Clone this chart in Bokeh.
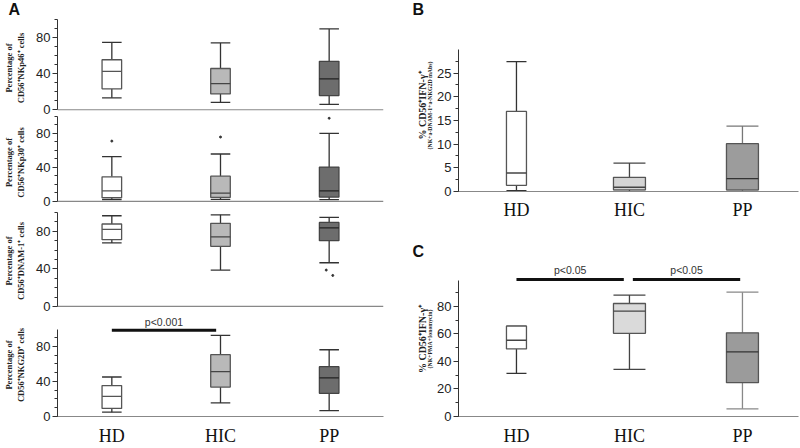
from bokeh.plotting import figure
from bokeh.models import (Range1d, SingleIntervalTicker, FixedTicker, Span, LinearAxis,
                          ColumnDataSource)
from bokeh.core.properties import value
from bokeh.layouts import column, row
from bokeh.embed import file_html
from bokeh.resources import INLINE

# ---------------- data ----------------
cats = ["HD", "HIC", "PP"]
panel_letters = ["A", "B", "C"]

# Panel A (percentage of CD56+ cells expressing receptor)
nkp46_low = [13.2, 8.2, 6.0]
nkp46_q1 = [23.2, 17.5, 15.7]
nkp46_med = [42.5, 29.0, 34.3]
nkp46_q3 = [55.4, 45.7, 53.6]
nkp46_high = [74.6, 74.0, 89.6]

nkp30_low = [1.9, 2.3, 1.9]
nkp30_q1 = [4.2, 4.6, 5.0]
nkp30_med = [12.3, 9.6, 12.3]
nkp30_q3 = [28.8, 29.6, 40.4]
nkp30_high = [52.7, 55.8, 80.0]
nkp30_out_cat = [0, 1, 2]
nkp30_out_val = [71.0, 75.8, 98.0]

dnam_low = [67.6, 38.7, 46.5]
dnam_q1 = [71.0, 64.0, 70.0]
dnam_med = [82.0, 74.0, 83.5]
dnam_q3 = [87.7, 88.4, 89.4]
dnam_high = [96.5, 97.5, 94.7]
dnam_out_cat = [2, 2]
dnam_out_val = [38.7, 33.0]

nkg2d_low = [4.9, 15.5, 6.7]
nkg2d_q1 = [9.2, 33.5, 26.4]
nkg2d_med = [22.9, 51.0, 44.0]
nkg2d_q3 = [35.2, 70.4, 56.7]
nkg2d_high = [45.0, 92.3, 76.0]
nkg2d_sig_text = ["p<0.001"]

# Panel B (% CD56+IFN-g+, receptor stimulation)
b_low = [0.2, 0.0, 0.1]
b_q1 = [1.3, 0.35, 0.35]
b_med = [3.9, 0.9, 2.7]
b_q3 = [16.9, 3.0, 10.1]
b_high = [27.4, 6.0, 13.8]

# Panel C (% CD56+IFN-g+, PMA + ionomycin)
c_low = [31.3, 34.2, 5.6]
c_q1 = [49.1, 60.4, 24.6]
c_med = [55.4, 76.5, 47.0]
c_q3 = [65.7, 82.1, 60.8]
c_high = [65.7, 88.2, 90.3]
c_sig_text = ["p<0.05", "p<0.05"]

# ---------------- styles ----------------
SANS = "Liberation Sans"
SERIF = "Liberation Serif"
xs = list(range(len(cats)))


def style_yaxis(p, interval, minor, bounds):
    p.yaxis.ticker = SingleIntervalTicker(interval=interval, num_minor_ticks=minor)
    ax = p.yaxis[0]
    ax.bounds = bounds
    ax.axis_line_color = "#333333"
    ax.axis_line_width = 1
    ax.major_tick_line_color = "#333333"
    ax.minor_tick_line_color = "#333333"
    ax.major_tick_in = 0
    ax.major_tick_out = 5
    ax.minor_tick_in = 0
    ax.minor_tick_out = 3
    ax.major_label_standoff = 2
    ax.major_label_text_font = SANS
    ax.major_label_text_font_size = "13px"
    ax.major_label_text_color = "#222222"


def style_xaxis(p, standoff):
    ax = p.xaxis[0]
    ax.ticker = FixedTicker(ticks=xs)
    ax.major_label_overrides = {i: c for i, c in enumerate(cats)}
    ax.axis_line_color = "#888888"
    ax.axis_line_width = 1.2
    ax.major_tick_line_color = None
    ax.minor_tick_line_color = None
    ax.major_label_standoff = standoff
    ax.major_label_text_font = SERIF
    ax.major_label_text_font_size = "18px"
    ax.major_label_text_color = "#111111"


def make_fig(w, h, xr, yr, top, bottom, left, right, xaxis=False):
    kw = dict(width=w, height=h, x_range=Range1d(*xr), y_range=Range1d(*yr),
              toolbar_location=None, output_backend="svg",
              min_border_top=top, min_border_bottom=bottom,
              min_border_left=left, min_border_right=right)
    if not xaxis:
        kw["x_axis_location"] = None
    p = figure(**kw)
    p.grid.visible = False
    p.outline_line_color = None
    p.background_fill_color = "white"
    p.border_fill_color = "white"
    return p


def letter(p, txt, offset):
    t = p.title
    t.text = txt
    t.align = "left"
    t.offset = offset
    t.standoff = 0
    t.vertical_align = "top"
    t.text_font = SANS
    t.text_font_style = "bold"
    t.text_font_size = "16px"
    t.text_color = "#111111"


def draw_boxes(p, low, q1, med, q3, high, widths, fills, lines, meds, whisk):
    half = [w / 2 for w in widths]
    src = ColumnDataSource(dict(
        x=xs, low=low, q1=q1, med=med, q3=q3, high=high, w=widths,
        xl=[x - h for x, h in zip(xs, half)], xr=[x + h for x, h in zip(xs, half)],
        fill=fills, line=lines, medc=meds, wc=whisk))
    p.segment(x0="x", y0="low", x1="x", y1="q1", line_color="wc", line_width=1.3, source=src)
    p.segment(x0="x", y0="q3", x1="x", y1="high", line_color="wc", line_width=1.3, source=src)
    p.segment(x0="xl", y0="low", x1="xr", y1="low", line_color="wc", line_width=1.3, source=src)
    p.segment(x0="xl", y0="high", x1="xr", y1="high", line_color="wc", line_width=1.3, source=src)
    p.vbar(x="x", width="w", bottom="q1", top="q3", fill_color="fill",
           line_color="line", line_width=1.3, source=src)
    p.segment(x0="xl", y0="med", x1="xr", y1="med", line_color="medc", line_width=1.3, source=src)


def ylabel_axes(p, lines, sizes, standoffs, bounds):
    # lines listed from the one nearest the plot outward
    for text, fs, st in zip(lines, sizes, standoffs):
        ax = LinearAxis(ticker=FixedTicker(ticks=[]), bounds=bounds, axis_label=text,
                        axis_line_color=None, major_tick_line_color=None,
                        minor_tick_line_color=None, major_tick_out=0, minor_tick_out=0,
                        major_tick_in=0, minor_tick_in=0, major_label_standoff=0,
                        axis_label_standoff=st, axis_label_text_font=SERIF,
                        axis_label_text_font_style="bold", axis_label_text_font_size=fs,
                        axis_label_text_color="#222222")
        p.add_layout(ax, "left")


def sig(p, x0, x1, ybar, ytxt, texts):
    p.segment(x0=x0, y0=[ybar] * len(x0), x1=x1, y1=[ybar] * len(x0),
              line_color="#111111", line_width=3)
    p.text(x=[(a + b) / 2 for a, b in zip(x0, x1)], y=[ytxt] * len(x0), text=texts,
           text_font=value(SANS), text_font_size="10.5px", text_color="#333333",
           text_align="center", text_baseline="middle")


def xline(p):
    p.add_layout(Span(location=0, dimension="width", line_color="#888888", line_width=1.2))


# ---------------- panel A ----------------
A_fill = ["#ffffff", "#b9b9b9", "#6d6d6d"]
A_line = ["#555555", "#555555", "#444444"]
A_med = ["#555555", "#444444", "#222222"]
A_whisk = ["#333333", "#333333", "#333333"]
A_w = [0.18, 0.18, 0.18]
A_xr = (-0.5, 2.5)
LW, LL, LR = 400, 51, 17
A_lab_sizes = ["8.5px", "8.5px"]
A_lab_standoffs = [8, -1]

f1 = make_fig(LW, 116, A_xr, (-7.5, 100), 17, 0, LL, LR)
draw_boxes(f1, nkp46_low, nkp46_q1, nkp46_med, nkp46_q3, nkp46_high, A_w, A_fill, A_line, A_med, A_whisk)
style_yaxis(f1, 40, 4, (0, 100)); xline(f1)
ylabel_axes(f1, ["CD56\u207aNKp46\u207a cells", "Percentage of"], A_lab_sizes, A_lab_standoffs, (32, 100))
letter(f1, panel_letters[0], -49)

f2 = make_fig(LW, 92, A_xr, (-8.5, 100), 0, 0, LL, LR)
draw_boxes(f2, nkp30_low, nkp30_q1, nkp30_med, nkp30_q3, nkp30_high, A_w, A_fill, A_line, A_med, A_whisk)
f2.scatter(x=nkp30_out_cat, y=nkp30_out_val, size=2, color="#333333")
style_yaxis(f2, 40, 4, (0, 100)); xline(f2)
ylabel_axes(f2, ["CD56\u207aNKp30\u207a cells", "Percentage of"], A_lab_sizes, A_lab_standoffs, (32, 100))

dnam_jitter = [-0.027, 0.033]
f3 = make_fig(LW, 105, A_xr, (-7.5, 104.2), 0, 0, LL, LR)
draw_boxes(f3, dnam_low, dnam_q1, dnam_med, dnam_q3, dnam_high, A_w, A_fill, A_line, A_med, A_whisk)
f3.scatter(x=[c + j for c, j in zip(dnam_out_cat, dnam_jitter)], y=dnam_out_val, size=2, color="#333333")
style_yaxis(f3, 40, 4, (0, 100)); xline(f3)
ylabel_axes(f3, ["CD56\u207aDNAM-1\u207a cells", "Percentage of"], A_lab_sizes, A_lab_standoffs, (32, 100))

f4 = make_fig(LW, 135, A_xr, (0, 117.3), 0, 24, LL, LR, xaxis=True)
draw_boxes(f4, nkg2d_low, nkg2d_q1, nkg2d_med, nkg2d_q3, nkg2d_high, A_w, A_fill, A_line, A_med, A_whisk)
style_yaxis(f4, 40, 4, (0, 99)); style_xaxis(f4, 3)
ylabel_axes(f4, ["CD56\u207aNKG2D\u207a cells", "Percentage of"], A_lab_sizes, A_lab_standoffs, (32, 100))
sig(f4, [0.0], [0.96], 98.3, 108.1, nkg2d_sig_text)

# ---------------- panel B ----------------
RW, RL, RR = 400, 58, 2
R_xr = (-0.513, 2.496)
BC_w = [0.177, 0.283, 0.283]
BC_lab_sizes = ["5.8px", "10px"]
BC_lab_standoffs = [2, -4]

fB = make_fig(RW, 242, R_xr, (0, 36.3), 17, 51, RL, RR, xaxis=True)
draw_boxes(fB, b_low, b_q1, b_med, b_q3, b_high, BC_w,
           ["#ffffff", "#d4d4d4", "#9c9c9c"], ["#555555", "#555555", "#555555"],
           ["#444444", "#444444", "#333333"], ["#333333", "#444444", "#777777"])
style_yaxis(fB, 5, 2, (0, 29.9)); style_xaxis(fB, 2)
ylabel_axes(fB, ["(NK+a-DNAM-1+a-NKG2D mAbs)", "% CD56\u207aIFN-\u03b3\u207a"],
            BC_lab_sizes, BC_lab_standoffs, (11.2, 30))
letter(fB, panel_letters[1], -46)

# ---------------- panel C ----------------
fC = make_fig(RW, 206, R_xr, (0, 112.6), 17, 26, RL, RR, xaxis=True)
draw_boxes(fC, c_low, c_q1, c_med, c_q3, c_high, BC_w,
           ["#ffffff", "#dadada", "#9b9b9b"], ["#555555", "#555555", "#555555"],
           ["#444444", "#444444", "#333333"], ["#333333", "#444444", "#888888"])
style_yaxis(fC, 20, 2, (0, 99)); style_xaxis(fC, 3)
ylabel_axes(fC, ["(NK+PMA+Ionomycin)", "% CD56\u207aIFN-\u03b3\u207a"],
            BC_lab_sizes, BC_lab_standoffs, (26, 100))
letter(fC, panel_letters[2], -46)
sig(fC, [0.0, 1.03], [0.95, 1.98], 99.6, 106.5, c_sig_text)

layout = row(column(f1, f2, f3, f4), column(fB, fC))
open("out.html", "w").write(file_html(layout, INLINE))
